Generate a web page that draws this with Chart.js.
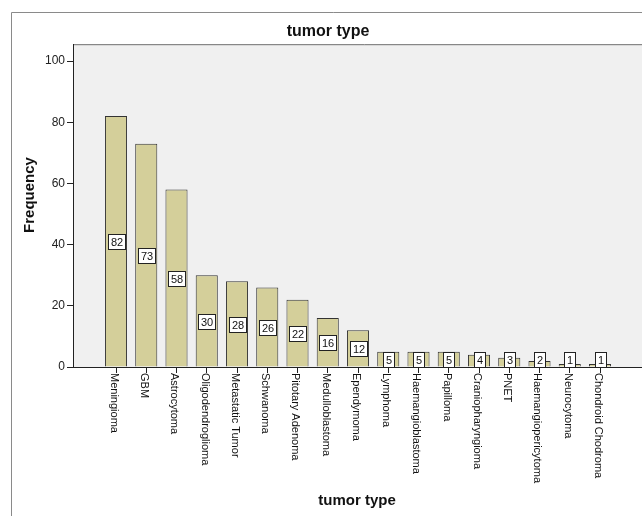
<!DOCTYPE html>
<html><head><meta charset="utf-8">
<script src="https://cdn.jsdelivr.net/npm/chart.js@4.4.1/dist/chart.umd.min.js"></script>
<style>
html,body{margin:0;padding:0;background:#fff;overflow:hidden;width:642px;height:516px}
canvas{display:block}
</style>
</head><body>
<canvas id="c" width="656" height="516" style="width:656px;height:516px"></canvas>
<script>
const chartTitle = 'tumor type';
const xAxisTitle = 'tumor type';
const yAxisTitle = 'Frequency';
const categories = ['Meningioma','GBM','Astrocytoma','Oligodendroglioma','Metastatic Tumor','Schwanoma','Pitotary Adenoma','Medulloblastoma','Ependymoma','Lymphoma','Haemangioblastoma','Papilloma','Craniopharyngioma','PNET','Haemangiopericytoma','Neurocytoma','Chondroid Chodroma'];
const frequencies = [82,73,58,30,28,26,22,16,12,5,5,5,4,3,2,1,1];
const yTickValues = [0,20,40,60,80,100];

const FONT = '"Liberation Sans", Arial, sans-serif';
const BAR_FILL = '#d4cf9a';
const DARK = '#222';

const framePlugin = {
  id: 'frame',
  beforeDraw(chart) {
    const {ctx, chartArea: a, width, height} = chart;
    ctx.save();
    ctx.fillStyle = '#fff';
    ctx.fillRect(0, 0, width, height);
    ctx.strokeStyle = '#8a8a8a';
    ctx.lineWidth = 1;
    ctx.beginPath();
    ctx.moveTo(11.5, height);
    ctx.lineTo(11.5, 12.5);
    ctx.lineTo(width, 12.5);
    ctx.stroke();
    ctx.fillStyle = '#f0f0f0';
    ctx.fillRect(a.left, a.top, a.right - a.left, a.bottom - a.top);
    ctx.strokeStyle = '#6e6e6e';
    ctx.beginPath();
    ctx.moveTo(a.left, a.top + 0.5);
    ctx.lineTo(a.right, a.top + 0.5);
    ctx.stroke();
    ctx.restore();
  }
};

const labelPlugin = {
  id: 'labels',
  afterDatasetsDraw(chart) {
    const {ctx} = chart;
    const ys = chart.scales.y;
    const meta = chart.getDatasetMeta(0);
    ctx.save();
    ctx.font = '11px ' + FONT;
    ctx.textAlign = 'center';
    ctx.textBaseline = 'middle';
    meta.data.forEach((bar, i) => {
      const v = frequencies[i];
      const txt = String(v);
      const w = Math.round(ctx.measureText(txt).width + 5);
      const h = 15;
      let cy = ys.getPixelForValue(v / 2);
      cy = Math.min(cy, ys.bottom - h / 2);
      const x0 = Math.round(bar.x - w / 2) + 0.5;
      const y0 = Math.round(cy - h / 2) + 0.5;
      ctx.fillStyle = '#fff';
      ctx.fillRect(x0, y0, w, h);
      ctx.strokeStyle = DARK;
      ctx.lineWidth = 1;
      ctx.strokeRect(x0, y0, w, h);
      ctx.fillStyle = '#111';
      ctx.fillText(txt, x0 + w / 2, y0 + h / 2 + 0.5);
    });
    ctx.restore();
  },
  afterDraw(chart) {
    const {ctx} = chart;
    const xs = chart.scales.x;
    ctx.save();
    ctx.fillStyle = '#111';
    ctx.font = '11px ' + FONT;
    ctx.textAlign = 'left';
    ctx.textBaseline = 'middle';
    categories.forEach((c, i) => {
      const px = xs.getPixelForValue(i);
      ctx.save();
      ctx.translate(px - 2, xs.top + 6);
      ctx.rotate(Math.PI / 2);
      ctx.fillText(c, 0, 0);
      ctx.restore();
    });
    ctx.font = 'bold 15px ' + FONT;
    ctx.textAlign = 'center';
    ctx.fillText(xAxisTitle, 357, 501);
    ctx.save();
    ctx.translate(30, 195);
    ctx.rotate(-Math.PI / 2);
    ctx.fillText(yAxisTitle, 0, 0);
    ctx.restore();
    ctx.restore();
  }
};

new Chart(document.getElementById('c'), {
  type: 'bar',
  data: {
    datasets: [{
      data: frequencies.map((v, i) => ({x: i, y: v})),
      backgroundColor: BAR_FILL,
      borderColor: '#333',
      borderWidth: 1,
      categoryPercentage: 1,
      barPercentage: 0.73
    }]
  },
  options: {
    responsive: false,
    animation: false,
    devicePixelRatio: 1,
    layout: {padding: 0},
    plugins: {
      legend: {display: false},
      tooltip: {enabled: false},
      title: {
        display: true,
        text: chartTitle,
        color: '#111',
        font: {family: FONT, size: 16, weight: 'bold'},
        padding: {top: 22, bottom: 3}
      }
    },
    scales: {
      x: {
        type: 'linear',
        position: 'bottom',
        min: -1.4215,
        max: 17.851,
        offset: false,
        ticks: {display: false, stepSize: 1, includeBounds: false, autoSkip: false},
        grid: {
          offset: false,
          drawOnChartArea: false,
          drawTicks: true,
          tickLength: 6,
          tickColor: (ctx) => (ctx.tick && ctx.tick.value >= 0 && ctx.tick.value < categories.length) ? DARK : 'rgba(0,0,0,0)'
        },
        border: {display: true, color: DARK, width: 1},
        afterFit: (s) => { s.height = 149; }
      },
      y: {
        position: 'left',
        min: 0,
        max: 105.5,
        afterBuildTicks: (s) => { s.ticks = yTickValues.map(v => ({value: v})); },
        ticks: {color: DARK, font: {family: FONT, size: 12}, padding: 2},
        grid: {drawOnChartArea: false, drawTicks: true, tickLength: 6, tickColor: DARK},
        border: {display: true, color: DARK, width: 1},
        afterFit: (s) => { s.width = 73; }
      }
    }
  },
  plugins: [framePlugin, labelPlugin]
});
</script>
</body></html>
